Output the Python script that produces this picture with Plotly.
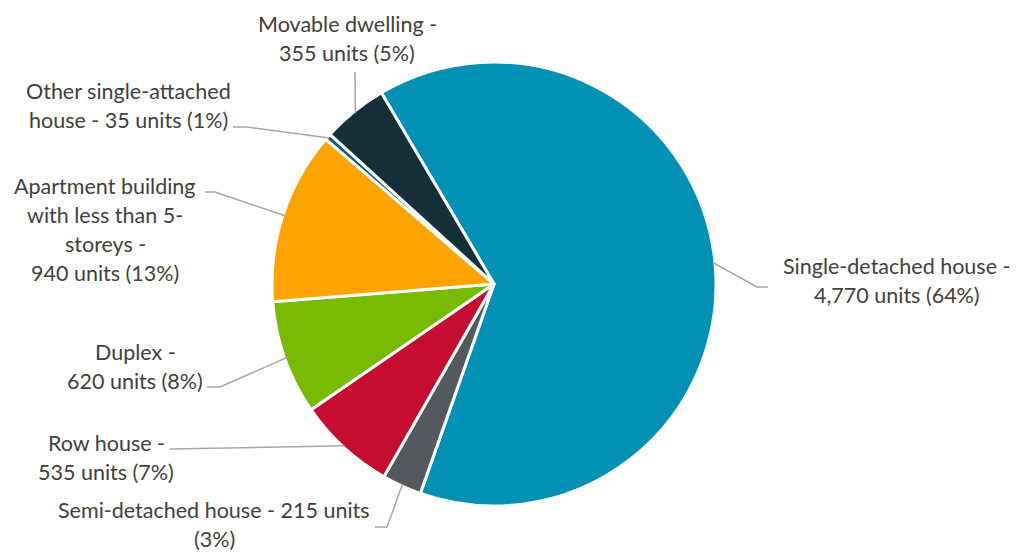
import math
import plotly.graph_objects as go

# Dwelling types (clockwise from the top-left edge of the largest slice)
categories = [
    "Single-detached house",
    "Semi-detached house",
    "Row house",
    "Duplex",
    "Apartment building with less than 5-storeys",
    "Other single-attached house",
    "Movable dwelling",
]
units = [4770, 215, 535, 620, 940, 35, 355]
shares = [64, 3, 7, 8, 13, 1, 5]
colors = ["#0091B4", "#54595D", "#C60C30", "#78BA00", "#FFA300", "#0B5F78", "#172F39"]

# Label line breaks: {u} = units, {s} = share
label_layouts = [
    ["Single-detached house -", "{u} units ({s}%)"],
    ["Semi-detached house - {u} units", "({s}%)"],
    ["Row house -", "{u} units ({s}%)"],
    ["Duplex -", "{u} units ({s}%)"],
    ["Apartment building", "with less than 5-", "storeys -", "{u} units ({s}%)"],
    ["Other single-attached", "house - {u} units ({s}%)"],
    ["Movable dwelling -", "{u} units ({s}%)"],
]

# Canvas and pie geometry (pixels)
W, H = 1016, 552
CX, CY, R = 494, 284, 222
ROTATION = -30.5

# Label block centres and leader-line bends (pixels)
label_centres = [(897, 280), (214, 524), (106, 457), (135, 366), (105, 229), (128, 105), (347, 38)]
leader_paths = [
    [(768, 287), (757, 287)],
    [(375, 527), (387, 527)],
    [(170, 449)],
    [(207, 387), (220, 387)],
    [(205, 192), (215, 192)],
    [(233, 127), (247, 127)],
    [(355, 72)],
]
LINE_GAP = 29
TEXT_COLOR = "#404040"
FONT = "Lato, 'Open Sans', sans-serif"
FONT_SIZE = 21.5

fig = go.Figure()

fig.add_trace(go.Pie(
    labels=categories,
    values=units,
    sort=False,
    direction="clockwise",
    rotation=ROTATION,
    marker=dict(colors=colors, line=dict(color="white", width=3)),
    textinfo="none",
    hoverinfo="label+value+percent",
    showlegend=False,
    domain=dict(x=[(CX - R) / W, (CX + R) / W], y=[1 - (CY + R) / H, 1 - (CY - R) / H]),
))

# Hidden pixel-space axes for leader lines and labels
fig.add_trace(go.Scatter(x=[0, W], y=[0, H], mode="markers",
                         marker=dict(opacity=0), hoverinfo="skip", showlegend=False))

total = sum(units)
angle = ROTATION
shapes = []
annotations = []
for i, v in enumerate(units):
    span = 360 * v / total
    mid = math.radians(angle + span / 2)
    angle += span
    ex = CX + (R - 2) * math.sin(mid)
    ey = CY - (R - 2) * math.cos(mid)
    pts = leader_paths[i] + [(ex, ey)]
    path = "M " + " L ".join(f"{px},{py}" for px, py in pts)
    shapes.append(dict(type="path", path=path, xref="x", yref="y",
                       line=dict(color="#A6A6A6", width=1.5)))

    lines = [t.format(u=f"{v:,}", s=shares[i]) for t in label_layouts[i]]
    lx, ly = label_centres[i]
    n = len(lines)
    for j, txt in enumerate(lines):
        annotations.append(dict(
            x=lx, y=ly + (j - (n - 1) / 2) * LINE_GAP, xref="x", yref="y",
            text=txt, showarrow=False, xanchor="center", yanchor="middle",
            font=dict(family=FONT, size=FONT_SIZE, color=TEXT_COLOR),
        ))

fig.update_layout(
    width=W, height=H,
    margin=dict(l=0, r=0, t=0, b=0),
    paper_bgcolor="white", plot_bgcolor="rgba(0,0,0,0)",
    xaxis=dict(range=[0, W], visible=False, fixedrange=True, domain=[0, 1]),
    yaxis=dict(range=[H, 0], visible=False, fixedrange=True, domain=[0, 1]),
    shapes=shapes,
    annotations=annotations,
)

fig.write_html("out.html")
